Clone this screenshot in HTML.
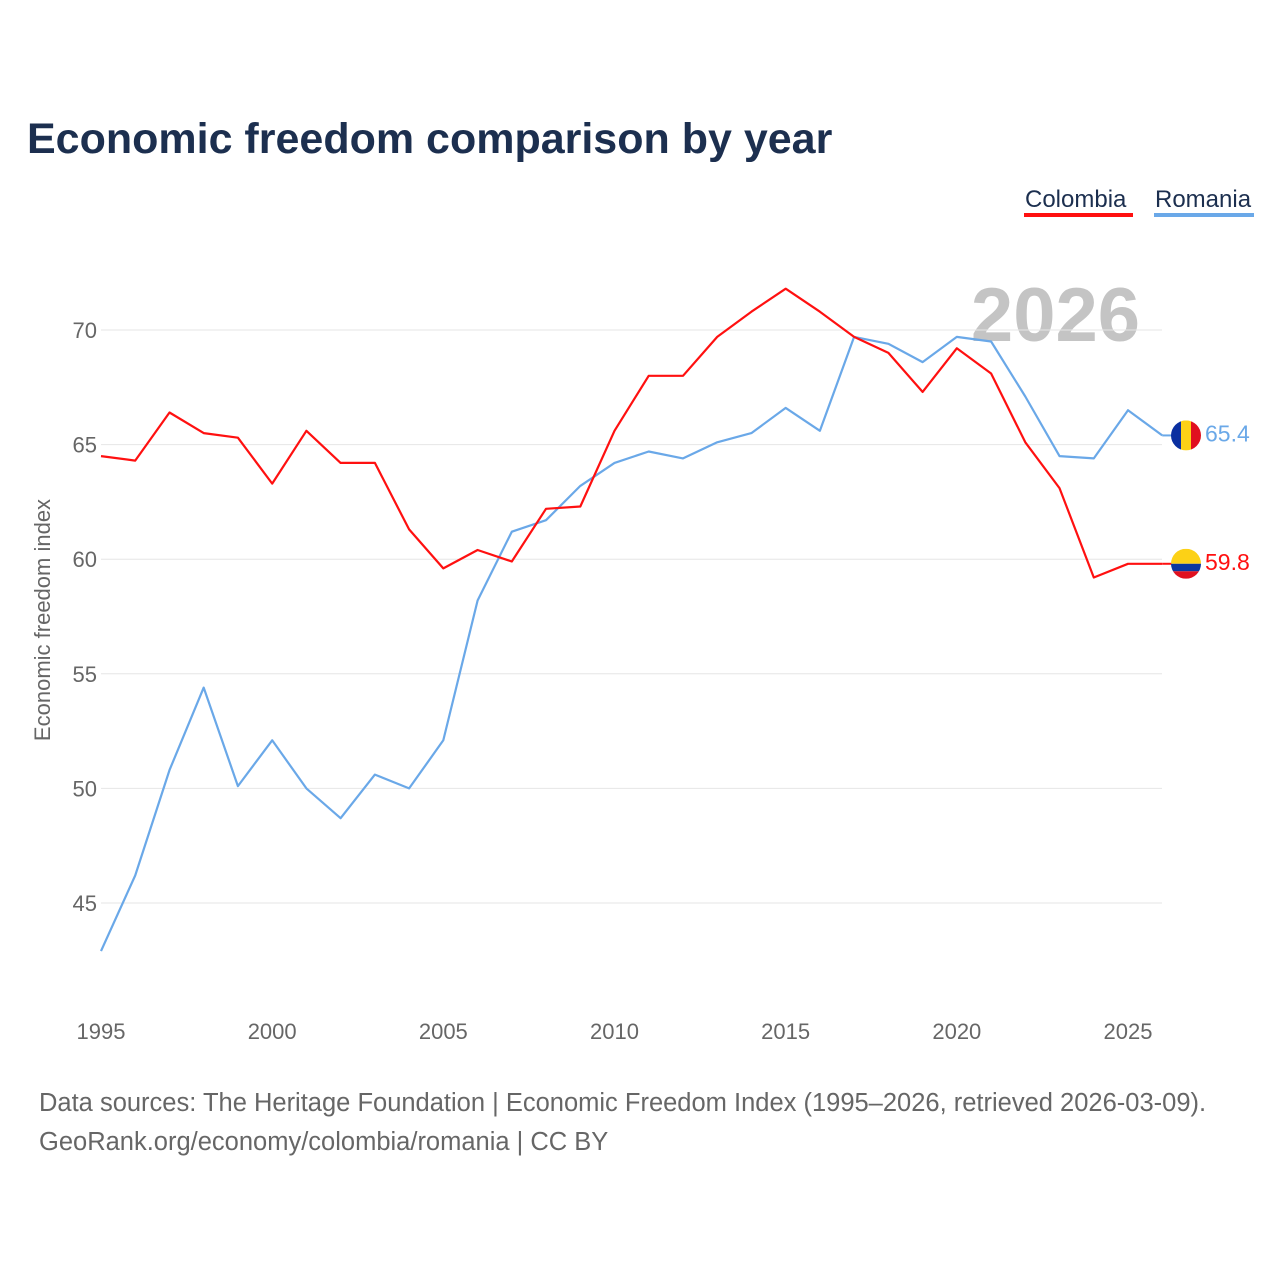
<!DOCTYPE html>
<html><head><meta charset="utf-8">
<style>
body{margin:0;background:#fff;font-family:"Liberation Sans",sans-serif;}
svg{display:block}
</style></head>
<body>
<svg id="chart" width="1280" height="1280">
<text x="27" y="153" font-size="43" font-weight="bold" fill="#1c2f4f">Economic freedom comparison by year</text>
<g>
<text x="1025" y="207" font-size="24" fill="#1c2f4f">Colombia</text>
<rect x="1024" y="213" width="109" height="4" fill="#ff1010"/>
<text x="1155" y="207" font-size="24" fill="#1c2f4f">Romania</text>
<rect x="1154" y="213" width="100" height="4" fill="#6aa8e8"/>
</g>
<text x="1140" y="341" font-size="76" font-weight="bold" fill="#c4c4c4" text-anchor="end">2026</text>
<g id="grid"></g><g id="series"></g><g id="axes"></g>
<text transform="translate(50,620) rotate(-90)" font-size="22" fill="#666" text-anchor="middle">Economic freedom index</text>
<text x="39" y="1111" font-size="25.5" fill="#666">Data sources: The Heritage Foundation | Economic Freedom Index (1995–2026, retrieved 2026-03-09).</text>
<text x="39" y="1150" font-size="25.5" fill="#666">GeoRank.org/economy/colombia/romania | CC BY</text>
</svg>
<script>
const years=[];for(let y=1995;y<=2026;y++)years.push(y);
const colombia=[64.5,64.3,66.4,65.5,65.3,63.3,65.6,64.2,64.2,61.3,59.6,60.4,59.9,62.2,62.3,65.6,68.0,68.0,69.7,70.8,71.8,70.8,69.7,69.0,67.3,69.2,68.1,65.1,63.1,59.2,59.8,59.8];
const romania=[42.9,46.2,50.8,54.4,50.1,52.1,50.0,48.7,50.6,50.0,52.1,58.2,61.2,61.7,63.2,64.2,64.7,64.4,65.1,65.5,66.6,65.6,69.7,69.4,68.6,69.7,69.5,67.1,64.5,64.4,66.5,65.4];
const yTicks=[45,50,55,60,65,70];
const xTicks=[1995,2000,2005,2010,2015,2020,2025];
const NS="http://www.w3.org/2000/svg";
const X=v=>101+(v-1995)*34.233;
const Y=v=>330+(70-v)*22.92;
function mk(tag,attrs,parent,text){const e=document.createElementNS(NS,tag);for(const k in attrs)e.setAttribute(k,attrs[k]);if(text!==undefined)e.textContent=text;document.getElementById(parent).appendChild(e);return e;}
yTicks.forEach(t=>{
 const l=mk('line',{x1:101,x2:1162,y1:Y(t),y2:Y(t),stroke:'#e6e6e6','stroke-width':1},'grid');
 
 
 const tx=mk('text',{x:97,y:Y(t)+8,'font-size':22,fill:'#666','text-anchor':'end'},'axes',String(t));
 
 
});
xTicks.forEach(t=>{
 const tx=mk('text',{x:X(t),y:1039,'font-size':22,fill:'#666','text-anchor':'middle'},'axes',String(t));
 
 
});
function line(vals,color,name){
 const d=vals.map((v,i)=>(i?'L':'M')+X(years[i]).toFixed(1)+','+Y(v).toFixed(1)).join(' ');
 const p=mk('path',{d:d,fill:'none',stroke:color,'stroke-width':2.2,'stroke-linejoin':'round'},'series');
 
 
 const last=vals[vals.length-1];
 const cx=1186,cy=Y(last);
 mk('line',{x1:X(2026),x2:cx-14,y1:cy,y2:cy,stroke:color,'stroke-width':2},'series');
 const lb=mk('text',{x:1205,y:cy+6,'font-size':23,fill:color},'series',last.toFixed(1));
 
 
 return cy;
}
const cyR=line(romania,'#6aa8e8','romania');
const cyC=line(colombia,'#ff1010','colombia');
const fr=mk('g',{},'series');


fr.innerHTML=`<clipPath id="cr"><circle cx="1186" cy="${cyR}" r="15"/></clipPath><g clip-path="url(#cr)"><rect x="1171" y="${cyR-15}" width="10" height="30" fill="#0a2fa0"/><rect x="1181" y="${cyR-15}" width="10" height="30" fill="#fcd116"/><rect x="1191" y="${cyR-15}" width="10" height="30" fill="#e0101f"/></g>`;
const fc=mk('g',{},'series');


fc.innerHTML=`<clipPath id="cc"><circle cx="1186" cy="${cyC}" r="15"/></clipPath><g clip-path="url(#cc)"><rect x="1171" y="${cyC-15}" width="30" height="15" fill="#fcd116"/><rect x="1171" y="${cyC}" width="30" height="7.5" fill="#0a38a0"/><rect x="1171" y="${cyC+7.5}" width="30" height="7.5" fill="#e0101f"/></g>`;
</script>
</body></html>
